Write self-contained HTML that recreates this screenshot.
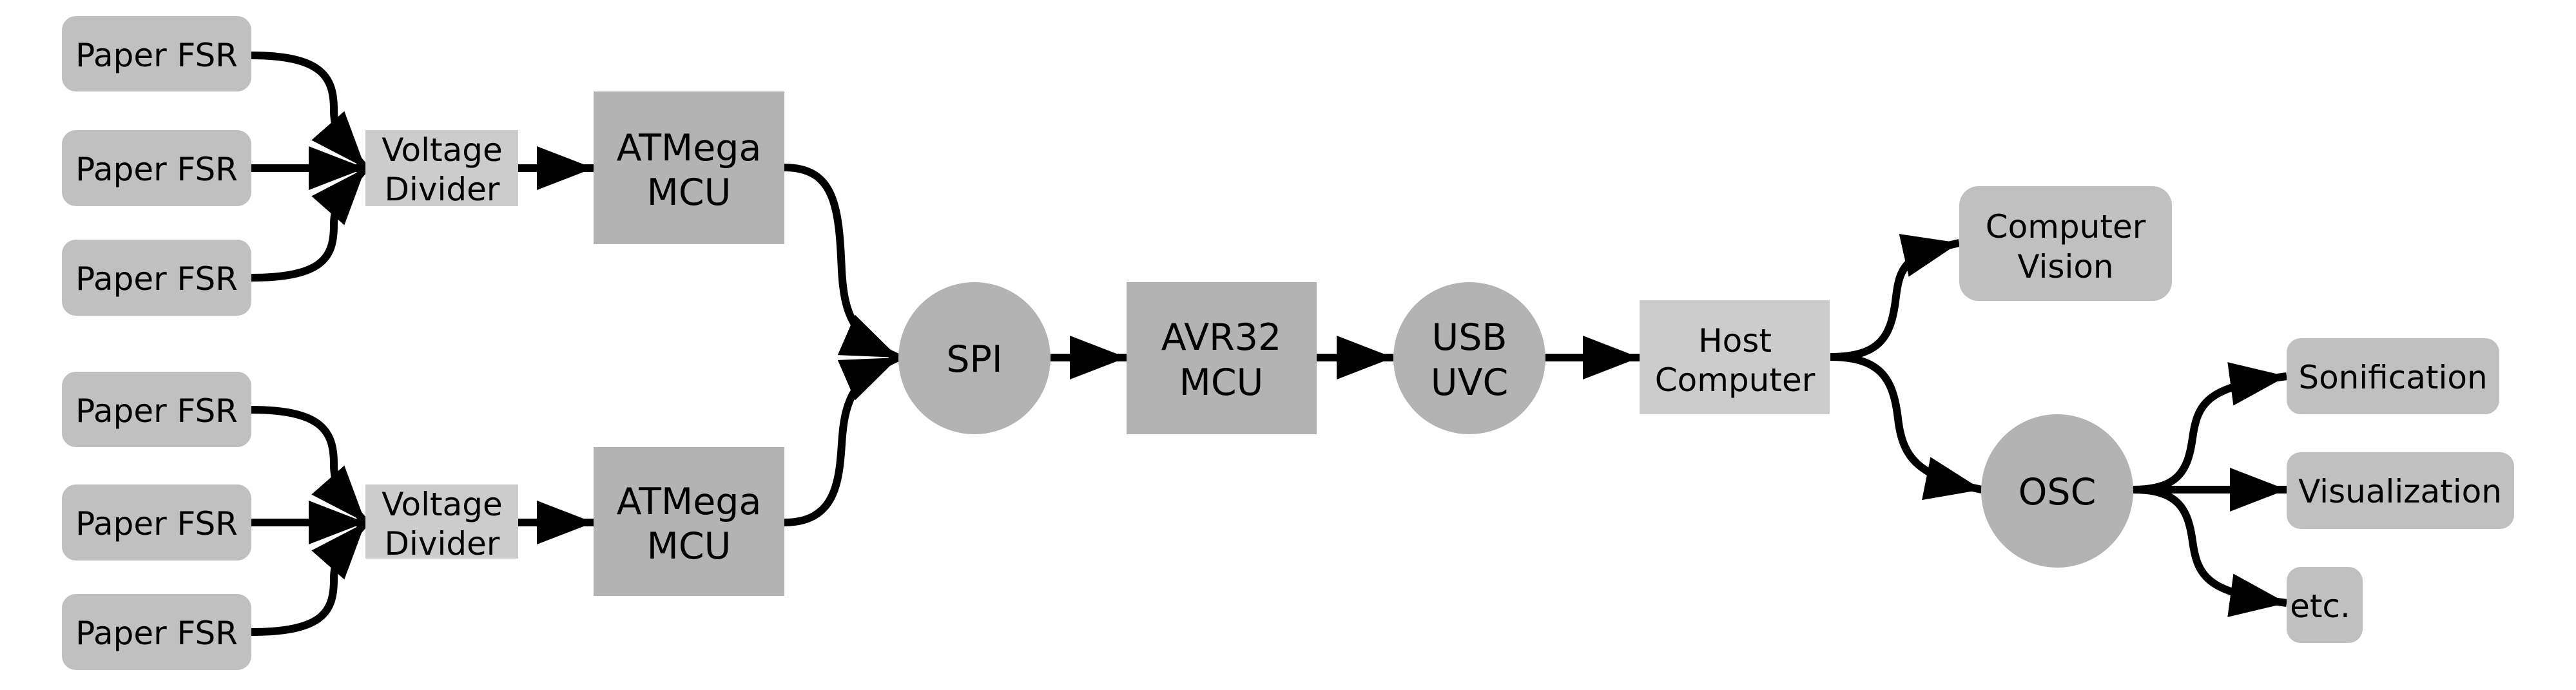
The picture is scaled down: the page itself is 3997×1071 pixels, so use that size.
<!DOCTYPE html>
<html><head><meta charset="utf-8"><style>
html,body{margin:0;padding:0;background:#fff;}
svg{display:block;}
text{font-family:"DejaVu Sans","Liberation Sans",sans-serif;fill:#000;text-anchor:middle;dominant-baseline:central;}
</style></head><body>
<svg width="3997" height="1071" viewBox="0 0 3997 1071" xmlns="http://www.w3.org/2000/svg">
<defs>
<marker id="a" markerUnits="userSpaceOnUse" markerWidth="100" markerHeight="80" refX="88" refY="34" orient="auto" viewBox="0 0 100 80">
<path d="M0,0 L88,34 L0,68 z" fill="#000"/>
</marker>
</defs>
<g fill="none" stroke="#000" stroke-width="12" marker-end="url(#a)">
<path d="M390,86 C500,86 518,120 518,170 C518,195 522,210 567,261"/>
<path d="M390,261 L567,261"/>
<path d="M390,431 C500,431 518,400 518,350 C518,325 522,312 567,261"/>
<path d="M804,261 L921,261"/>
<path d="M390,636 C500,636 518,670 518,720 C518,745 522,760 567,811"/>
<path d="M390,811 L567,811"/>
<path d="M390,981 C500,981 518,950 518,900 C518,875 522,862 567,811"/>
<path d="M804,811 L921,811"/>
<path d="M1217,260 C1295,260 1302,320 1306,420 C1310,490 1325,525 1394,555"/>
<path d="M1217,811 C1295,811 1302,750 1306,690 C1310,620 1325,585 1394,555"/>
<path d="M1630,555 L1748,555"/>
<path d="M2043,555 L2162,555"/>
<path d="M2397,555 L2544,555"/>
<path d="M2840,554 C2920,554 2935,520 2942,460 C2948,410 2960,395 3040,377"/>
<path d="M2840,554 C2920,554 2938,590 2945,650 C2952,710 2975,740 3075,760"/>
<path d="M3310,760 C3380,760 3395,730 3402,680 C3410,620 3430,600 3548,584"/>
<path d="M3310,760 L3548,760"/>
<path d="M3310,760 C3380,760 3395,790 3402,840 C3410,900 3430,920 3548,936"/>
</g>
<g fill="#c0c0c0">
<rect x="96" y="25" width="294" height="117" rx="22"/>
<rect x="96" y="202" width="294" height="118" rx="22"/>
<rect x="96" y="372" width="294" height="118" rx="22"/>
<rect x="96" y="577" width="294" height="117" rx="22"/>
<rect x="96" y="752" width="294" height="118" rx="22"/>
<rect x="96" y="922" width="294" height="118" rx="22"/>
<rect x="3040" y="289" width="330" height="178" rx="30"/>
<rect x="3548" y="525" width="330" height="118" rx="22"/>
<rect x="3548" y="702" width="353" height="119" rx="22"/>
<rect x="3548" y="880" width="118" height="118" rx="22"/>
</g>
<g fill="#cccccc">
<rect x="567" y="202" width="237" height="118"/>
<rect x="567" y="752" width="237" height="115"/>
<rect x="2544" y="466" width="295" height="177"/>
</g>
<g fill="#b3b3b3">
<rect x="921" y="142" width="296" height="237"/>
<rect x="921" y="694" width="296" height="231"/>
<rect x="1748" y="438" width="295" height="236"/>
<ellipse cx="1512" cy="556" rx="118" ry="118"/>
<ellipse cx="2280" cy="556" rx="118" ry="118"/>
<ellipse cx="3192" cy="762" rx="118" ry="119"/>
</g>
<g font-size="50">
<text x="243" y="86">Paper FSR</text>
<text x="243" y="263">Paper FSR</text>
<text x="243" y="433">Paper FSR</text>
<text x="243" y="638">Paper FSR</text>
<text x="243" y="813">Paper FSR</text>
<text x="243" y="983">Paper FSR</text>
<text x="686" y="233">Voltage</text>
<text x="686" y="294">Divider</text>
<text x="686" y="783">Voltage</text>
<text x="686" y="844">Divider</text>
<text x="2692" y="529">Host</text>
<text x="2692" y="590">Computer</text>
<text x="3205" y="352">Computer</text>
<text x="3205" y="414">Vision</text>
<text x="3713" y="586">Sonification</text>
<text x="3724" y="763">Visualization</text>
<text x="3600" y="941">etc.</text>
</g>
<g font-size="57">
<text x="1069" y="230">ATMega</text>
<text x="1069" y="299">MCU</text>
<text x="1069" y="779">ATMega</text>
<text x="1069" y="848">MCU</text>
<text x="1512" y="558">SPI</text>
<text x="1895" y="524">AVR32</text>
<text x="1895" y="594">MCU</text>
<text x="2280" y="524">USB</text>
<text x="2280" y="594">UVC</text>
<text x="3192" y="764">OSC</text>
</g>
</svg>
</body></html>
